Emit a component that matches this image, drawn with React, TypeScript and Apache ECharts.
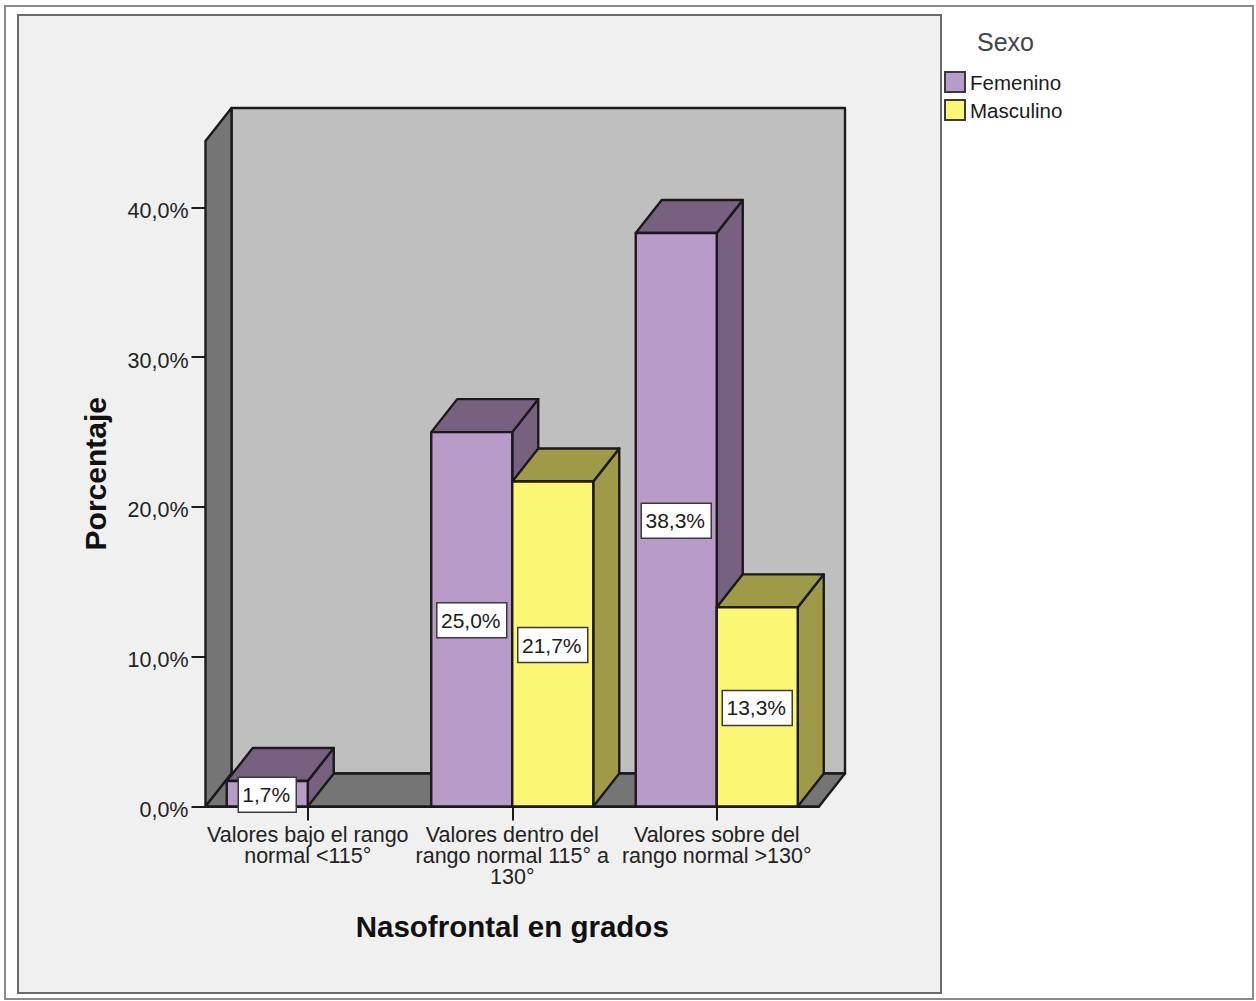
import React, { useEffect, useRef } from "react";
import * as echarts from "echarts";

const categories = [
  "Valores bajo el rango\nnormal <115°",
  "Valores dentro del\nrango normal 115° a\n130°",
  "Valores sobre del\nrango normal >130°",
];
const femenino: (number | null)[] = [1.7, 25.0, 38.3];
const masculino: (number | null)[] = [null, 21.7, 13.3];
const yTicks = [0, 10, 20, 30, 40];

const FONT = "'Liberation Sans', Arial, sans-serif";
const DEPTH_X = 26;
const DEPTH_Y = -33;
const INK = "#1a1a1a";
const EDGE = 2.4;
const BAR_SHARE = 81 / 204.5;

const formatPct = (v: number) => v.toFixed(1).replace(".", ",") + "%";

// Side wall, back wall and floor of the 3D chart box.
function renderBox(params: any, api: any) {
  const y0 = api.coord([0, 0])[1];
  const cs = params.coordSys;
  const x1 = cs.x + cs.width;
  const xl = cs.x;
  const yt = cs.y;
  const face = (points: number[][], fill: string) => ({
    type: "polygon",
    shape: { points },
    style: { fill, stroke: INK, lineWidth: EDGE, lineJoin: "round" },
  });
  return {
    type: "group",
    children: [
      face(
        [
          [xl + DEPTH_X, yt + DEPTH_Y],
          [x1 + DEPTH_X, yt + DEPTH_Y],
          [x1 + DEPTH_X, y0 + DEPTH_Y],
          [xl + DEPTH_X, y0 + DEPTH_Y],
        ],
        "#bfbfbf",
      ),
      face(
        [
          [xl, yt],
          [xl + DEPTH_X, yt + DEPTH_Y],
          [xl + DEPTH_X, y0 + DEPTH_Y],
          [xl, y0],
        ],
        "#757575",
      ),
      face(
        [
          [xl, y0],
          [xl + DEPTH_X, y0 + DEPTH_Y],
          [x1 + DEPTH_X, y0 + DEPTH_Y],
          [x1, y0],
        ],
        "#757575",
      ),
    ],
  };
}

// One extruded bar plus its boxed value label; side -1 sits left of the category centre, +1 right.
function makeBarRenderer(side: number, front: string, dark: string) {
  return (_params: any, api: any) => {
    const value = api.value(1);
    if (value == null || Number.isNaN(value)) return undefined;
    const [cx, yTop] = api.coord([api.value(0), value]);
    const [, yBase] = api.coord([api.value(0), 0]);
    const w = api.size([1, 0])[0] * BAR_SHARE;
    const xa = side < 0 ? cx - w : cx;
    const xb = xa + w;
    const poly = (points: number[][], fill: string) => ({
      type: "polygon",
      shape: { points },
      style: { fill, stroke: INK, lineWidth: EDGE, lineJoin: "round" },
    });
    const label = formatPct(value);
    const boxW = label.length * 12 + 10;
    const boxH = 35;
    const mx = (xa + xb) / 2;
    const my = (yTop + yBase) / 2 + 1;
    return {
      type: "group",
      children: [
        poly(
          [
            [xb, yBase],
            [xb + DEPTH_X, yBase + DEPTH_Y],
            [xb + DEPTH_X, yTop + DEPTH_Y],
            [xb, yTop],
          ],
          dark,
        ),
        poly(
          [
            [xa, yTop],
            [xa + DEPTH_X, yTop + DEPTH_Y],
            [xb + DEPTH_X, yTop + DEPTH_Y],
            [xb, yTop],
          ],
          dark,
        ),
        poly(
          [
            [xa, yTop],
            [xb, yTop],
            [xb, yBase],
            [xa, yBase],
          ],
          front,
        ),
        {
          type: "rect",
          shape: { x: mx - boxW / 2, y: my - boxH / 2, width: boxW, height: boxH },
          style: { fill: "#ffffff", stroke: "#3a3a3a", lineWidth: 1.5 },
        },
        {
          type: "text",
          style: {
            x: mx - 1,
            y: my,
            text: label,
            align: "center",
            verticalAlign: "middle",
            fill: "#1a1a1a",
            font: `21px ${FONT}`,
          },
        },
      ],
    };
  };
}

export default function App() {
  const ref = useRef<HTMLDivElement>(null);

  useEffect(() => {
    const chart = echarts.init(ref.current!, null, { renderer: "svg" });
    chart.setOption({
      animation: false,
      backgroundColor: "#ffffff",
      title: {
        text: "Sexo",
        left: 977,
        top: 29,
        padding: 0,
        textStyle: { fontFamily: FONT, fontSize: 25, fontWeight: "normal", color: "#444444" },
      },
      legend: {
        orient: "vertical",
        left: 944,
        top: 71,
        padding: 0,
        itemWidth: 20,
        itemHeight: 20,
        itemGap: 6,
        icon: "rect",
        selectedMode: false,
        data: ["Femenino", "Masculino"],
        textStyle: { fontFamily: FONT, fontSize: 20.5, color: "#1a1a1a" },
      },
      grid: { left: 205.5, top: 141, width: 613.5, height: 665.5 },
      xAxis: {
        type: "category",
        data: categories,
        boundaryGap: true,
        name: "Nasofrontal en grados",
        nameLocation: "middle",
        nameGap: 105,
        nameTextStyle: { fontFamily: FONT, fontSize: 29.5, fontWeight: "bold", color: "#111111" },
        axisLine: { show: true, lineStyle: { color: INK, width: 2 } },
        axisTick: { show: true, alignWithLabel: true, length: 14, lineStyle: { color: INK, width: 2 } },
        axisLabel: {
          interval: 0,
          margin: 18,
          fontFamily: FONT,
          fontSize: 21.5,
          lineHeight: 21,
          color: "#222222",
          hideOverlap: false,
        },
      },
      yAxis: {
        type: "value",
        min: 0,
        max: 44.44,
        interval: 10,
        name: "Porcentaje",
        nameLocation: "middle",
        nameRotate: 90,
        nameGap: 95,
        nameTextStyle: { fontFamily: FONT, fontSize: 30, fontWeight: "bold", color: "#111111" },
        splitLine: { show: false },
        axisLine: { show: true, lineStyle: { color: INK, width: 2 } },
        axisTick: { show: true, length: 14, customValues: yTicks, lineStyle: { color: INK, width: 2 } },
        axisLabel: {
          customValues: yTicks,
          margin: 17,
          fontFamily: FONT,
          fontSize: 21.5,
          color: "#222222",
          verticalAlign: "top",
          lineHeight: 7,
          formatter: (v: number) => formatPct(v),
        },
      },
      graphic: [
        {
          type: "rect",
          z: -10,
          silent: true,
          shape: { x: 5, y: 6, width: 1248, height: 993 },
          style: { fill: "#ffffff", stroke: "#8a8a8a", lineWidth: 2 },
        },
        {
          type: "rect",
          z: -9,
          silent: true,
          shape: { x: 18, y: 15, width: 923, height: 978 },
          style: { fill: "#f0f0f0", stroke: "#6a6a6a", lineWidth: 2 },
        },
      ],
      series: [
        {
          type: "custom",
          name: "Caja",
          silent: true,
          z: 1,
          data: [[0, 0]],
          renderItem: renderBox,
          encode: { x: 0, y: 1 },
        },
        {
          type: "custom",
          name: "Femenino",
          silent: true,
          z: 2,
          itemStyle: { color: "#b89bc9", borderColor: "#3a3a3a", borderWidth: 1.5 },
          data: femenino.map((v, i) => [i, v]),
          renderItem: makeBarRenderer(-1, "#b89bc9", "#776080"),
          encode: { x: 0, y: 1 },
        },
        {
          type: "custom",
          name: "Masculino",
          silent: true,
          z: 3,
          itemStyle: { color: "#fbf774", borderColor: "#3a3a3a", borderWidth: 1.5 },
          data: masculino.map((v, i) => [i, v]),
          renderItem: makeBarRenderer(1, "#fbf774", "#9e9a48"),
          encode: { x: 0, y: 1 },
        },
      ],
    });
    return () => chart.dispose();
  }, []);

  return <div ref={ref} style={{ position: "absolute", left: 0, top: 0, width: 1256, height: 1001 }} />;
}
